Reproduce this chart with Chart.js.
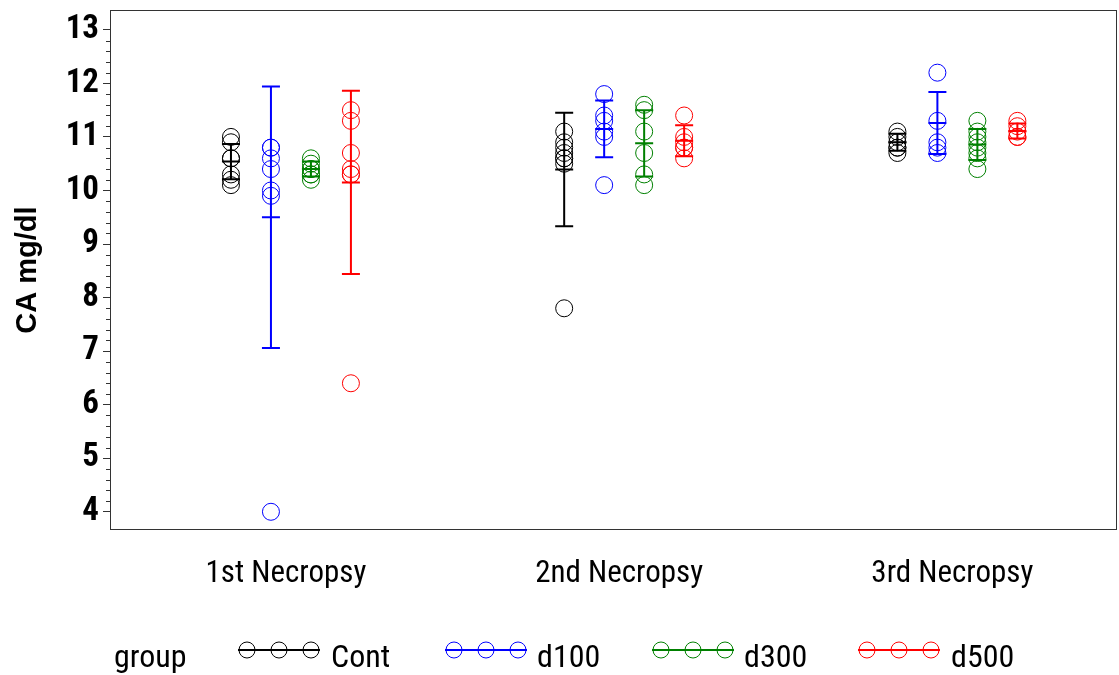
<!DOCTYPE html>
<html>
<head>
<meta charset="utf-8">
<script src="https://cdn.jsdelivr.net/npm/chart.js@4.4.1/dist/chart.umd.min.js"></script>
<style>
  html, body { margin: 0; padding: 0; background: #fff; }
  #wrap { position: relative; width: 1119px; height: 675px; }
  #c { position: absolute; left: 0; top: 0; }
  .lg { position: absolute; top: 636px; font: 32px "Roboto Condensed", "Liberation Sans", sans-serif; color: #000; line-height: 40px; }
  .sym { position: absolute; top: 640px; }
</style>
</head>
<body>
<div id="wrap">
  <canvas id="c" width="1119" height="675"></canvas>
  <div class="lg" style="left:114px">group</div>
  <svg class="sym" style="left:236px" width="86" height="20"><line x1="2" y1="10" x2="84" y2="10" stroke="#000" stroke-width="2"/><circle cx="11" cy="10" r="8" fill="none" stroke="#000"/><circle cx="43" cy="10" r="8" fill="none" stroke="#000"/><circle cx="75" cy="10" r="8" fill="none" stroke="#000"/></svg>
  <div class="lg" style="left:331px">Cont</div>
  <svg class="sym" style="left:443px" width="86" height="20"><line x1="2" y1="10" x2="84" y2="10" stroke="#0000ff" stroke-width="2"/><circle cx="11" cy="10" r="8" fill="none" stroke="#0000ff"/><circle cx="43" cy="10" r="8" fill="none" stroke="#0000ff"/><circle cx="75" cy="10" r="8" fill="none" stroke="#0000ff"/></svg>
  <div class="lg" style="left:537px">d100</div>
  <svg class="sym" style="left:650px" width="86" height="20"><line x1="2" y1="10" x2="84" y2="10" stroke="#008000" stroke-width="2"/><circle cx="11" cy="10" r="8" fill="none" stroke="#008000"/><circle cx="43" cy="10" r="8" fill="none" stroke="#008000"/><circle cx="75" cy="10" r="8" fill="none" stroke="#008000"/></svg>
  <div class="lg" style="left:744px">d300</div>
  <svg class="sym" style="left:856px" width="86" height="20"><line x1="2" y1="10" x2="84" y2="10" stroke="#ff0000" stroke-width="2"/><circle cx="11" cy="10" r="8" fill="none" stroke="#ff0000"/><circle cx="43" cy="10" r="8" fill="none" stroke="#ff0000"/><circle cx="75" cy="10" r="8" fill="none" stroke="#ff0000"/></svg>
  <div class="lg" style="left:951px">d500</div>
</div>
<script>
// Necropsy time points (x axis) and dose groups
const necropsies = ['1st Necropsy', '2nd Necropsy', '3rd Necropsy'];
const groups = ['Cont', 'd100', 'd300', 'd500'];
const yTicks = [4, 5, 6, 7, 8, 9, 10, 11, 12, 13];

// Individual CA values (mg/dl), one array per necropsy for each group
const cont = [
  [11.0, 10.9, 10.6, 10.6, 10.3, 10.2, 10.1],
  [11.1, 10.9, 10.8, 10.7, 10.6, 10.6, 10.5, 7.8],
  [11.1, 11.0, 10.9, 10.8, 10.8, 10.7]
];
const d100 = [
  [10.8, 10.8, 10.6, 10.4, 10.0, 9.9, 4.0],
  [11.8, 11.4, 11.3, 11.1, 11.0, 10.1],
  [12.2, 11.3, 10.9, 10.8, 10.7]
];
const d300 = [
  [10.6, 10.5, 10.4, 10.4, 10.3, 10.3, 10.2],
  [11.6, 11.5, 11.1, 10.7, 10.3, 10.1],
  [11.3, 11.1, 11.0, 10.9, 10.8, 10.7, 10.6, 10.4]
];
const d500 = [
  [11.5, 11.3, 10.7, 10.4, 10.3, 10.3, 6.4],
  [11.4, 11.0, 10.9, 10.8, 10.8, 10.6],
  [11.3, 11.2, 11.1, 11.0, 11.0]
];

// Group means and standard deviations per necropsy
const contMean = [10.54, 10.39, 10.90];
const contSd   = [0.33, 1.06, 0.16];
const d100Mean = [9.50, 11.15, 11.26];
const d100Sd   = [2.44, 0.53, 0.58];
const d300Mean = [10.40, 10.88, 10.86];
const d300Sd   = [0.14, 0.62, 0.29];
const d500Mean = [10.15, 10.93, 11.11];
const d500Sd   = [1.71, 0.29, 0.14];

const colors = ['#000000', '#0000ff', '#008000', '#ff0000'];
const groupValues = [cont, d100, d300, d500];
const groupMeans = [contMean, d100Mean, d300Mean, d500Mean];
const groupSds = [contSd, d100Sd, d300Sd, d500Sd];
const groupOffset = [-0.165, -0.045, 0.075, 0.195];

const FONT = '"Roboto Condensed", "Liberation Sans", sans-serif';

const datasets = groups.map((g, gi) => {
  const pts = [];
  groupValues[gi].forEach((vals, ni) => {
    vals.forEach(v => pts.push({ x: ni + 1 + groupOffset[gi], y: v }));
  });
  return {
    label: g,
    data: pts,
    borderColor: colors[gi],
    backgroundColor: 'rgba(0,0,0,0)',
    pointRadius: 8.5,
    pointHoverRadius: 8.5,
    pointBorderWidth: 1,
    showLine: false
  };
});

// Mean ± SD bars with mean tick, drawn through the chart scales
const errorBars = {
  id: 'errorBars',
  afterDatasetsDraw(chart) {
    const { ctx, scales: { x, y } } = chart;
    ctx.save();
    ctx.lineWidth = 2;
    groups.forEach((g, gi) => {
      ctx.strokeStyle = colors[gi];
      groupMeans[gi].forEach((m, ni) => {
        const sd = groupSds[gi][ni];
        const px = x.getPixelForValue(ni + 1 + groupOffset[gi]);
        const yt = y.getPixelForValue(m + sd);
        const yb = y.getPixelForValue(m - sd);
        const ym = y.getPixelForValue(m);
        const hw = 9;
        ctx.beginPath();
        ctx.moveTo(px, yt); ctx.lineTo(px, yb);
        ctx.moveTo(px - hw, yt); ctx.lineTo(px + hw, yt);
        ctx.moveTo(px - hw, yb); ctx.lineTo(px + hw, yb);
        ctx.moveTo(px - hw, ym); ctx.lineTo(px + hw, ym);
        ctx.stroke();
      });
    });
    ctx.restore();
  }
};

// Plot frame and minor ticks on the y axis
const frame = {
  id: 'frame',
  afterDraw(chart) {
    const { ctx, chartArea: a, scales: { y } } = chart;
    ctx.save();
    ctx.strokeStyle = '#333';
    ctx.lineWidth = 1;
    ctx.strokeRect(a.left + 0.5, a.top + 0.5, a.right - a.left - 1, a.bottom - a.top - 1);
    ctx.beginPath();
    for (let k = 0; k < yTicks.length - 1; k++) {
      for (let j = 1; j < 5; j++) {
        const py = Math.round(y.getPixelForValue(yTicks[k] + j * 0.2)) + 0.5;
        ctx.moveTo(a.left - 4, py); ctx.lineTo(a.left, py);
      }
    }
    ctx.stroke();
    ctx.restore();
  }
};

new Chart(document.getElementById('c'), {
  type: 'scatter',
  data: { datasets },
  options: {
    responsive: false,
    animation: false,
    events: [],
    layout: { autoPadding: false, padding: { top: 10, right: 2, left: 0, bottom: 0 } },
    plugins: { legend: { display: false }, tooltip: { enabled: false } },
    scales: {
      x: {
        type: 'linear',
        min: 0.472,
        max: 3.494,
        afterBuildTicks: s => { s.ticks = necropsies.map((_, i) => ({ value: i + 1 })); },
        afterFit: s => { s.height = 145; s.paddingLeft = 0; s.paddingRight = 0; },
        ticks: {
          callback: v => necropsies[v - 1],
          color: '#000',
          font: { family: FONT, size: 31 },
          padding: 26,
          maxRotation: 0,
          autoSkip: false
        },
        grid: { display: false, drawTicks: false },
        border: { display: false }
      },
      y: {
        min: 3.66,
        max: 13.37,
        afterBuildTicks: s => { s.ticks = yTicks.map(v => ({ value: v })); },
        afterFit: s => { s.width = 110; s.paddingTop = 0; s.paddingBottom = 0; },
        ticks: {
          color: '#000',
          font: { family: FONT, size: 33, weight: 'bold' },
          padding: 4
        },
        grid: { drawOnChartArea: false, drawTicks: true, tickLength: 7, color: '#333' },
        border: { display: false },
        title: {
          display: true,
          text: 'CA mg/dl',
          color: '#000',
          font: { family: '"Liberation Sans", sans-serif', size: 29, weight: 'bold' },
          padding: { top: 11, bottom: 0 }
        }
      }
    }
  },
  plugins: [errorBars, frame]
});
</script>
</body>
</html>
